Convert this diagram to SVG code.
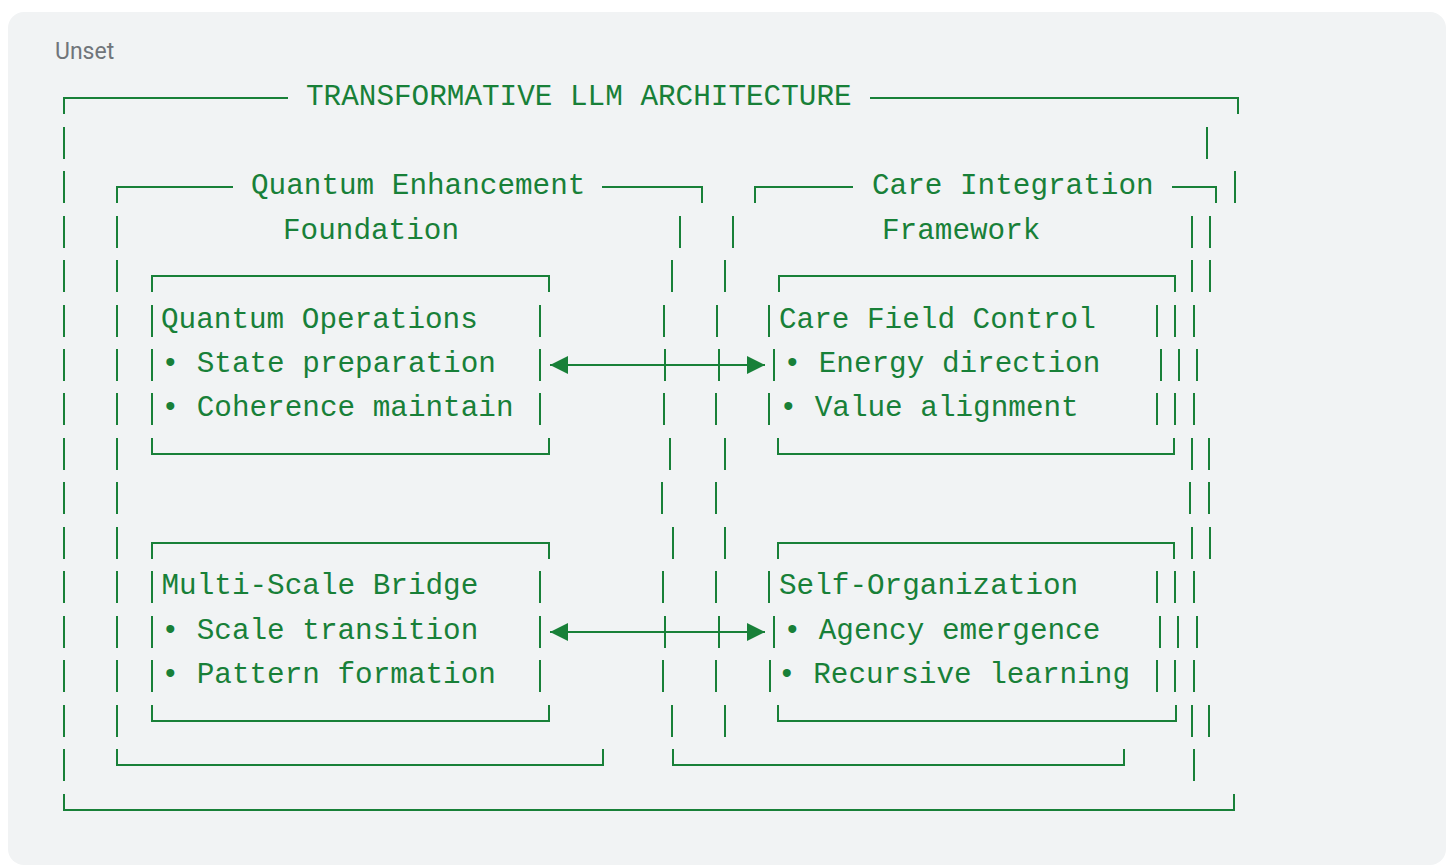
<svg xmlns="http://www.w3.org/2000/svg" width="1452" height="867" viewBox="0 0 1452 867">
<style>
.ln{stroke:#188038;stroke-width:2;fill:none}
.t{font-family:"Liberation Mono",monospace;font-size:29.33px;fill:#188038}
.lbl{font-family:Roboto,"Liberation Sans",sans-serif;font-size:23px;fill:#70757a}
</style>
<defs>
<marker id="ah" viewBox="0 0 18 18" refX="18" refY="9" markerWidth="18" markerHeight="18" markerUnits="userSpaceOnUse" orient="auto-start-reverse">
<path d="M0,0 L18,9 L0,18 z" fill="#188038"/>
</marker>
</defs>
<rect x="0" y="0" width="1452" height="867" fill="#ffffff"/>
<rect x="8" y="12" width="1438" height="853" rx="16" fill="#f1f3f4"/>
<text class="lbl" x="55" y="59">Unset</text>

<g id="outer-frame">
<path class="ln" d="M64,114V98H288 M870,98H1238V114
M64,127V159 M1207,127V159
M64,171V203 M1235,171V203
M64,216V248 M1210,216V248
M64,260V292 M1210,260V292
M64,305V337 M1194,305V337
M64,349V381 M1197,349V381
M64,393V425 M1194,393V425
M64,438V470 M1209,438V470
M64,482V514 M1209,482V514
M64,527V559 M1210,527V559
M64,571V603 M1194,571V603
M64,616V648 M1197,616V648
M64,660V692 M1194,660V692
M64,705V737 M1209,705V737
M64,749V781 M1194,749V781
M64,794V810H1234V794"/>
<text class="t" x="306" y="105">TRANSFORMATIVE LLM ARCHITECTURE</text>
</g>

<g id="quantum-enhancement-foundation">
<path class="ln" d="M117,203V187H233 M602,187H702V203
M117,216V248 M680,216V248
M117,260V292 M672,260V292
M117,305V337 M664,305V337
M117,349V381 M665,349V381
M117,393V425 M664,393V425
M117,438V470 M670,438V470
M117,482V514 M662,482V514
M117,527V559 M673,527V559
M117,571V603 M663,571V603
M117,616V648 M665,616V648
M117,660V692 M663,660V692
M117,705V737 M672,705V737
M117,749V765H603V749"/>
<text class="t" x="251" y="194">Quantum Enhancement</text>
<text class="t" x="283" y="239">Foundation</text>
</g>

<g id="care-integration-framework">
<path class="ln" d="M755,203V187H853 M1172,187H1216V203
M733,216V248 M1192,216V248
M725,260V292 M1192,260V292
M717,305V337 M1175,305V337
M719,349V381 M1179,349V381
M716,393V425 M1175,393V425
M725,438V470 M1192,438V470
M716,482V514 M1190,482V514
M725,527V559 M1192,527V559
M716,571V603 M1175,571V603
M719,616V648 M1178,616V648
M716,660V692 M1175,660V692
M725,705V737 M1192,705V737
M673,749V765H1124V749"/>
<text class="t" x="872" y="194">Care Integration</text>
<text class="t" x="882" y="239">Framework</text>
</g>

<g id="quantum-operations">
<path class="ln" d="M152,292V276H549V292
M152,305V337 M540,305V337
M152,349V381 M540,349V381
M152,393V425 M540,393V425
M152,438V454H549V438"/>
<text class="t" x="161" y="328">Quantum Operations</text>
<text class="t" x="161.5" y="372">• State preparation</text>
<text class="t" x="161.5" y="416">• Coherence maintain</text>
</g>

<g id="care-field-control">
<path class="ln" d="M779,292V276H1175V292
M769,305V337 M1157,305V337
M774,349V381 M1161,349V381
M769,393V425 M1157,393V425
M778,438V454H1174V438"/>
<text class="t" x="779" y="328">Care Field Control</text>
<text class="t" x="783.5" y="372">• Energy direction</text>
<text class="t" x="779.5" y="416">• Value alignment</text>
</g>

<g id="multi-scale-bridge">
<path class="ln" d="M152,559V543H549V559
M152,571V603 M540,571V603
M152,616V648 M540,616V648
M152,660V692 M540,660V692
M152,705V721H549V705"/>
<text class="t" x="161.5" y="594">Multi-Scale Bridge</text>
<text class="t" x="161.5" y="639">• Scale transition</text>
<text class="t" x="161.5" y="683">• Pattern formation</text>
</g>

<g id="self-organization">
<path class="ln" d="M778,559V543H1174V559
M769,571V603 M1157,571V603
M774,616V648 M1160,616V648
M770,660V692 M1157,660V692
M778,705V721H1176V705"/>
<text class="t" x="779" y="594">Self-Organization</text>
<text class="t" x="783.5" y="639">• Agency emergence</text>
<text class="t" x="778" y="683">• Recursive learning</text>
</g>

<g id="connectors">
<path class="ln" d="M550,365H765" marker-start="url(#ah)" marker-end="url(#ah)"/>
<path class="ln" d="M550,632H765" marker-start="url(#ah)" marker-end="url(#ah)"/>
</g>
</svg>
